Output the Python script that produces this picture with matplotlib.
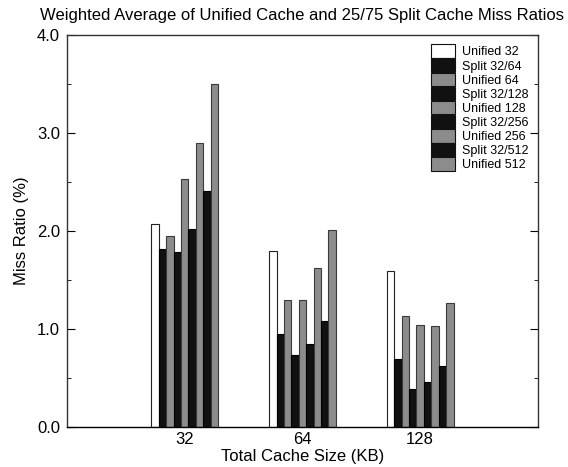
import numpy as np
import matplotlib.pyplot as plt
from matplotlib.patches import Patch
from matplotlib.ticker import MultipleLocator, FormatStrFormatter

plt.rcParams['font.family'] = ['Liberation Sans', 'DejaVu Sans']

# total cache sizes (KB) and miss ratios (%) per configuration
sizes = ['32', '64', '128']
series = ['Unified 32', 'Split 32/64', 'Unified 64', 'Split 32/128', 'Unified 128',
          'Split 32/256', 'Unified 256', 'Split 32/512', 'Unified 512']
unified_32 = [2.07, 1.80, 1.59]
split_32_64 = [1.82, 0.95, 0.69]
unified_64 = [1.95, 1.29, 1.13]
split_32_128 = [1.78, 0.73, 0.39]
unified_128 = [2.53, 1.29, 1.04]
split_32_256 = [2.02, 0.85, 0.46]
unified_256 = [2.90, 1.62, 1.03]
split_32_512 = [2.41, 1.08, 0.62]
unified_512 = [3.50, 2.01, 1.26]

values = [unified_32, split_32_64, unified_64, split_32_128, unified_128,
          split_32_256, unified_256, split_32_512, unified_512]

white, black, gray = '#ffffff', '#111111', '#8c8c8c'
fills = [white, black, gray, black, gray, black, gray, black, gray]
edges = ['#222222', '#000000', '#3a3a3a', '#000000', '#3a3a3a',
         '#000000', '#3a3a3a', '#000000', '#3a3a3a']

fig = plt.figure(figsize=(5.68, 4.67), dpi=100)
ax = fig.add_axes([0.118, 0.086, 0.829, 0.839])

x = np.arange(1, len(sizes) + 1)
w = 0.063
for i, (vals, fc, ec) in enumerate(zip(values, fills, edges)):
    ax.bar(x + (i - 4) * w, vals, width=w, color=fc, edgecolor=ec, linewidth=0.8)

ax.set_xlim(0, 4)
ax.set_ylim(0, 4)
ax.set_xticks(x)
ax.set_xticklabels(sizes)
ax.tick_params(axis='x', length=0, labelsize=12, pad=4)
ax.yaxis.set_major_locator(MultipleLocator(1.0))
ax.yaxis.set_minor_locator(MultipleLocator(0.5))
ax.yaxis.set_major_formatter(FormatStrFormatter('%.1f'))
ax.tick_params(axis='y', which='both', direction='in', right=True, labelsize=12)
ax.tick_params(axis='y', which='major', length=6, pad=5)
ax.tick_params(axis='y', which='minor', length=3)
for s in ax.spines.values():
    s.set_color('#333333')
    s.set_linewidth(1.0)
ax.spines['bottom'].set_color('#000000')

ax.set_xlabel('Total Cache Size (KB)', fontsize=12, labelpad=1)
ax.set_ylabel('Miss Ratio (%)', fontsize=12, labelpad=6)
ax.set_title('Weighted Average of Unified Cache and 25/75 Split Cache Miss Ratios',
             fontsize=12, pad=11)

handles = [Patch(facecolor=fc, edgecolor='#111111', linewidth=0.8) for fc in fills]
ax.legend(handles, series, loc='upper right', bbox_to_anchor=(1.0, 1.0),
          frameon=False, fontsize=9, handlelength=1.85, handleheight=1.32,
          labelspacing=0.0, handletextpad=0.6, borderpad=0.25)

fig.savefig('out.png', dpi=100)
